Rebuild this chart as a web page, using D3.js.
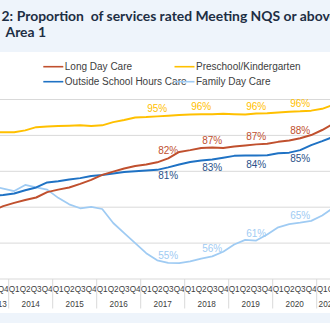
<!DOCTYPE html>
<html><head><meta charset="utf-8">
<script src="https://cdn.jsdelivr.net/npm/d3@7"></script>
<style>html,body{margin:0;padding:0;background:#fff;overflow:hidden}svg{display:block}</style>
</head><body><div id="chart"></div>
<script>
const quarters = ["2013 Q3","2013 Q4",
 "2014 Q1","2014 Q2","2014 Q3","2014 Q4",
 "2015 Q1","2015 Q2","2015 Q3","2015 Q4",
 "2016 Q1","2016 Q2","2016 Q3","2016 Q4",
 "2017 Q1","2017 Q2","2017 Q3","2017 Q4",
 "2018 Q1","2018 Q2","2018 Q3","2018 Q4",
 "2019 Q1","2019 Q2","2019 Q3","2019 Q4",
 "2020 Q1","2020 Q2","2020 Q3","2020 Q4",
 "2021 Q1","2021 Q2"];
const years = ["2013","2014","2015","2016","2017","2018","2019","2020","2021"];
const quarterTicks = ["Q1","Q2","Q3","Q4"];
const yTicks = [50,60,70,80,90,100];

const longDayCare = [69.0,70.3,71.2,72.0,72.7,74.2,74.9,75.5,76.5,77.6,79.0,79.9,80.8,81.5,81.9,82.5,83.6,85.4,85.9,86.5,86.6,86.5,86.9,87.2,87.5,87.7,88.2,88.6,89.2,90.1,91.5,93.2];
const preschool = [90.8,90.9,90.9,91.4,92.3,92.5,92.6,92.7,92.8,92.6,92.8,93.7,94.3,95.0,95.1,95.3,95.5,95.7,95.8,95.9,95.9,96.0,95.9,95.8,96.1,96.2,96.4,96.6,96.7,96.9,97.4,98.5];
const oshc = [73.1,73.4,73.8,74.7,75.5,76.9,77.2,77.7,78.1,78.7,79.0,79.4,79.8,80.0,80.2,80.4,81.1,81.9,82.6,83.0,83.3,83.8,84.3,84.4,84.4,84.5,85.0,85.2,85.9,87.3,88.4,89.6];
const familyDayCare = [75.9,75.2,74.5,76.2,75.5,74.9,72.6,70.8,69.7,70.1,69.5,65.6,62.8,60.0,57.2,55.2,54.5,54.4,54.9,55.7,56.3,57.6,59.6,60.9,60.7,62.4,64.4,65.3,65.7,66.2,67.7,69.8];

const ldcLabels = [["2017 Q3","82%"],["2018 Q3","87%"],["2019 Q3","87%"],["2020 Q3","88%"]];
const preLabels = [["2017 Q2","95%"],["2018 Q2","96%"],["2019 Q3","96%"],["2020 Q3","96%"]];
const oshcLabels = [["2017 Q3","81%"],["2018 Q3","83%"],["2019 Q3","84%"],["2020 Q3","85%"]];
const fdcLabels = [["2017 Q3","55%"],["2018 Q3","56%"],["2019 Q3","61%"],["2020 Q3","65%"]];

const titleLine1 = ["Figure 2:","Proportion  of services rated Meeting NQS or above in"];
const titleLine2 = ["","Area 1"];

const W = 330, H = 323;
const svg = d3.select("#chart").append("svg").attr("width", W).attr("height", H);

svg.append("rect").attr("x",0).attr("y",0).attr("width",W).attr("height",H).attr("fill","#fff");
svg.append("rect").attr("x",0).attr("y",0).attr("width",W).attr("height",52).attr("fill","#eef4fb");
svg.append("rect").attr("x",0).attr("y",313).attr("width",W).attr("height",10).attr("fill","#eef4fb");

// Title
function titleText(parts, visX, baseY) {
  const common = t => t.attr("y", baseY).attr("font-family","Lato, 'Open Sans', sans-serif")
    .attr("font-weight","bold").attr("font-size",13.9).attr("fill","#1d2e44").style("white-space","pre");
  if (parts[0]) common(svg.append("text")).attr("x", visX - 3.6).attr("text-anchor","end").text(parts[0]);
  common(svg.append("text")).attr("x", visX).text(parts[1]);
}
titleText(titleLine1, 16.7, 21);
titleText(titleLine2, 5.5, 37);

const x = d3.scaleBand().domain(quarters).range([-13.3, -13.3 + 11*quarters.length]);
const cx = q => x(q) + x.bandwidth()/2;
const y = d3.scaleLinear().domain([50,100]).range([279, 99.5]);

// gridlines
svg.append("g").selectAll("line").data(yTicks).join("line")
  .attr("x1",0).attr("x2",W).attr("y1",d=>y(d)).attr("y2",d=>y(d))
  .attr("stroke","#d9d9d9").attr("stroke-width",1);

// x axis labels
const axisG = svg.append("g").attr("font-family","'Liberation Sans', Arial, sans-serif").attr("fill","#404040");
axisG.selectAll("text.q").data(quarters).join("text").attr("class","q")
  .attr("x", d=>cx(d)).attr("y",291.5).attr("text-anchor","middle").attr("font-size",8.2)
  .text(d=>quarterTicks[+d.slice(-1)-1]);
const yearGroups = years.map(yr => {
  const qs = quarters.filter(q => q.startsWith(yr));
  return {yr, x0: x(qs[0]), x1: x(qs[qs.length-1]) + x.bandwidth()};
}).filter(g => !isNaN(g.x0));
axisG.selectAll("text.yr").data(yearGroups).join("text").attr("class","yr")
  .attr("x", d=>(d.x0+d.x1)/2).attr("y",307).attr("text-anchor","middle").attr("font-size",8.2)
  .text(d=>d.yr);
svg.append("g").selectAll("line").data(yearGroups.map(d=>d.x0).concat([yearGroups[yearGroups.length-1].x1])).join("line")
  .attr("x1",d=>d).attr("x2",d=>d).attr("y1",279).attr("y2",308.5)
  .attr("stroke","#d9d9d9").attr("stroke-width",1);

const series = [
  {name:"Long Day Care", values:longDayCare, color:"#c0502e", labelColor:"#c0502e", labels:ldcLabels, pos:"above", w:2},
  {name:"Preschool/Kindergarten", values:preschool, color:"#ffc000", labelColor:"#ffc000", labels:preLabels, pos:"above", w:2},
  {name:"Outside School Hours Care", values:oshc, color:"#1f72c4", labelColor:"#2a5189", labels:oshcLabels, pos:"below", w:2},
  {name:"Family Day Care", values:familyDayCare, color:"#9fcbf3", labelColor:"#9fcbf3", labels:fdcLabels, pos:"above", w:1.75}
];

const line = d3.line().x((d,i)=>cx(quarters[i])).y(d=>y(d));
[series[3], series[1], series[2], series[0]].forEach(s => {
  svg.append("path").datum(s.values).attr("d", line).attr("fill","none")
    .attr("stroke", s.color).attr("stroke-width", s.w).attr("stroke-linejoin","round");
});

series.forEach(s => {
  svg.append("g").selectAll("text").data(s.labels).join("text")
    .attr("x", d=>cx(d[0]))
    .attr("y", d=>{ const v = s.values[quarters.indexOf(d[0])]; return s.pos==="above" ? y(v)-4 : y(v)+12; })
    .attr("text-anchor","middle").attr("font-family","'Liberation Sans', Arial, sans-serif")
    .attr("font-size",10).attr("fill", s.labelColor).text(d=>d[1]);
});

// legend
const legendItems = [
  {s:series[0], x:43.3, y:66.7}, {s:series[1], x:174.5, y:66.7},
  {s:series[2], x:43.3, y:81.7}, {s:series[3], x:174.5, y:81.7}
];
const lg = svg.append("g");
legendItems.forEach(it => {
  lg.append("line").attr("x1",it.x).attr("x2",it.x+20).attr("y1",it.y).attr("y2",it.y)
    .attr("stroke", it.s.color).attr("stroke-width",1.6);
  lg.append("text").attr("x", it.x+21.5).attr("y", it.y+3.5)
    .attr("font-family","'Liberation Sans', Arial, sans-serif").attr("font-size",10)
    .attr("fill","#404040").text(it.s.name);
});
</script></body></html>
